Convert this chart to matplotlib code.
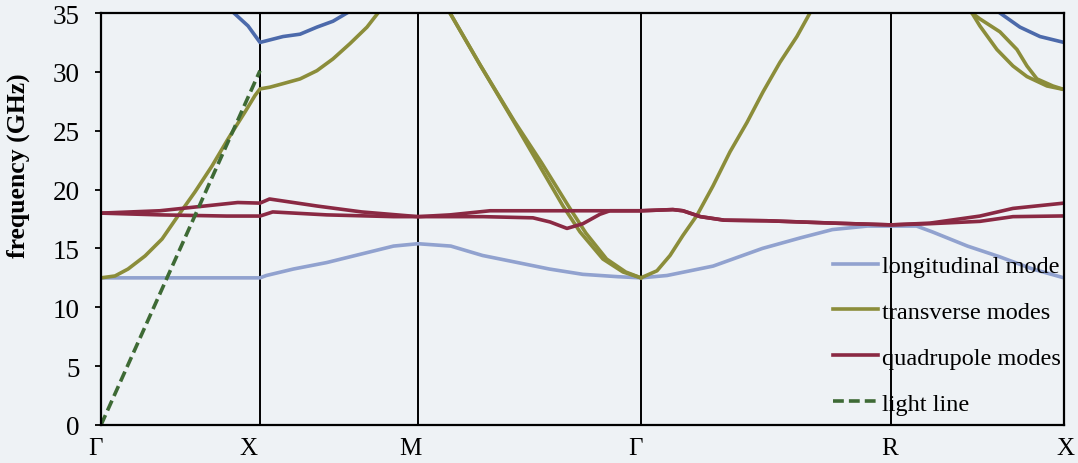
import matplotlib
matplotlib.use('Agg')
import matplotlib.pyplot as plt
from matplotlib.transforms import ScaledTranslation

# high symmetry points along the k-path
k_sym = [0.0, 1.0, 1.994, 3.396, 4.969, 6.057]
sym_labels = ['Γ', 'X', 'M', 'Γ', 'R', 'X']

# longitudinal mode
long_k = [0, 0.5, 1.0, 1.04, 1.21, 1.42, 1.63, 1.84, 1.994, 2.20, 2.40, 2.62, 2.82, 3.03, 3.25,
          3.396, 3.56, 3.85, 4.16, 4.40, 4.60, 4.82, 4.969, 5.13, 5.23, 5.45, 5.65, 5.86, 6.057]
long_f = [12.5, 12.5, 12.5, 12.7, 13.25, 13.8, 14.5, 15.2, 15.4, 15.2, 14.4, 13.8, 13.25, 12.8, 12.6,
          12.5, 12.7, 13.5, 15.0, 15.9, 16.6, 16.9, 16.9, 16.9, 16.4, 15.2, 14.3, 13.25, 12.5]

# upper (unlabelled) band
upper1_k = [0.836, 0.925, 1.0, 1.145, 1.252, 1.358, 1.459, 1.547]
upper1_f = [35.0, 33.9, 32.5, 33.0, 33.2, 33.8, 34.3, 35.0]
upper2_k = [5.654, 5.78, 5.906, 6.057]
upper2_f = [35.0, 33.8, 33.0, 32.5]

# transverse modes
tr1_k = [0, 0.088, 0.17, 0.277, 0.384, 0.484, 0.591, 0.698, 0.799, 0.906, 0.969, 1.0,
         1.063, 1.145, 1.252, 1.358, 1.459, 1.566, 1.673, 1.742]
tr1_f = [12.5, 12.66, 13.25, 14.36, 15.8, 17.76, 19.8, 22.0, 24.3, 26.6, 28.0, 28.55,
         28.7, 29.0, 29.4, 30.1, 31.1, 32.4, 33.8, 35.0]
tr2_k = [2.195, 2.384, 2.591, 2.742, 2.906, 3.013, 3.157, 3.283, 3.396,
         3.497, 3.579, 3.66, 3.748, 3.849, 3.956, 4.063, 4.164, 4.27, 4.377, 4.459]
tr2_f = [35.0, 30.6, 25.9, 22.4, 18.6, 16.4, 14.1, 13.0, 12.5,
         13.1, 14.4, 16.1, 17.8, 20.3, 23.2, 25.7, 28.3, 30.8, 33.0, 35.0]
tr3_k = [2.195, 2.384, 2.60, 2.77, 2.94, 3.05, 3.18, 3.30, 3.396]
tr3_f = [35.0, 30.6, 25.8, 22.3, 18.6, 16.3, 14.1, 13.0, 12.5]
tr4_k = [5.478, 5.528, 5.635, 5.736, 5.824, 5.950, 6.057]
tr4_f = [35.0, 33.9, 31.9, 30.5, 29.6, 28.8, 28.5]
tr5_k = [5.478, 5.528, 5.654, 5.761, 5.824, 5.887, 5.987, 6.057]
tr5_f = [35.0, 34.5, 33.4, 31.9, 30.5, 29.4, 28.8, 28.5]

# quadrupole modes
q1_k = [0, 0.37, 0.58, 0.86, 1.0, 1.06, 1.36, 1.64, 1.994, 2.195, 2.447, 2.824, 3.396,
        3.597, 3.66, 3.77, 3.92, 4.189, 4.604, 4.969, 5.214, 5.528, 5.736, 6.057]
q1_f = [18.0, 18.2, 18.5, 18.9, 18.85, 19.2, 18.6, 18.1, 17.7, 17.85, 18.2, 18.2, 18.2,
        18.3, 18.2, 17.7, 17.4, 17.35, 17.15, 17.0, 17.15, 17.75, 18.4, 18.85]
q2_k = [0, 0.37, 0.79, 1.0, 1.08, 1.42, 1.84, 1.994, 2.403, 2.717, 2.824, 2.931, 3.031, 3.138,
        3.201, 3.396, 3.597, 3.66, 3.77, 3.92, 4.189, 4.604, 4.969, 5.214, 5.528, 5.736, 6.057]
q2_f = [18.0, 17.85, 17.75, 17.75, 18.1, 17.85, 17.7, 17.7, 17.7, 17.6, 17.25, 16.7, 17.1, 17.9,
        18.2, 18.2, 18.3, 18.2, 17.7, 17.4, 17.35, 17.15, 17.0, 17.1, 17.3, 17.7, 17.76]

# light line
light_k = [0.0, 1.0]
light_f = [0.0, 30.1]

C_LONG = '#91a2cf'
C_UP = '#4c6aab'
C_TR = '#8b8d3a'
C_Q = '#8a2943'
C_LIGHT = '#3e6a35'
BG = '#eef2f5'

plt.rcParams['font.family'] = ['Liberation Serif', 'DejaVu Serif']

fig = plt.figure(figsize=(10.78, 4.64), dpi=100, facecolor=BG)
ax = fig.add_axes([101 / 1078, 1 - 426 / 464, 963 / 1078, 412 / 464])
ax.set_facecolor(BG)

lw = 2.6
ax.plot(long_k, long_f, color=C_LONG, lw=lw, label='longitudinal mode')
ax.plot(upper1_k, upper1_f, color=C_UP, lw=lw)
ax.plot(upper2_k, upper2_f, color=C_UP, lw=lw)
ax.plot(tr1_k, tr1_f, color=C_TR, lw=lw, label='transverse modes')
for kk, ff in [(tr2_k, tr2_f), (tr3_k, tr3_f), (tr4_k, tr4_f), (tr5_k, tr5_f)]:
    ax.plot(kk, ff, color=C_TR, lw=lw)
ax.plot(q1_k, q1_f, color=C_Q, lw=lw, label='quadrupole modes')
ax.plot(q2_k, q2_f, color=C_Q, lw=lw)
ax.plot(light_k, light_f, color=C_LIGHT, lw=lw, ls=(0, (3.0, 1.4)), label='light line')

for k in k_sym[1:-1]:
    ax.axvline(k, color='black', lw=1.4, zorder=1)

ax.set_xlim(k_sym[0], k_sym[-1])
ax.set_ylim(0, 35)
ax.set_yticks(range(0, 36, 5))
ax.set_xticks(k_sym)
ax.set_xticklabels(sym_labels)
ax.tick_params(axis='y', direction='out', length=4.5, width=1.3, pad=11, labelsize=19.5)
ax.tick_params(axis='x', length=0, pad=9, labelsize=18)
for s in ax.spines.values():
    s.set_linewidth(1.6)

# the labels sit a little off the lines in the original
label_shift_px = [-6, -12, -8, -5, -1, 1]
for lab, dx in zip(ax.get_xticklabels(), label_shift_px):
    lab.set_transform(lab.get_transform() + ScaledTranslation(dx / 100, 0, fig.dpi_scale_trans))

ax.set_ylabel('frequency (GHz)', fontsize=18.5, fontweight='bold')
ax.yaxis.set_label_coords(-0.074, 0.633)

ax.legend(loc='upper left', bbox_to_anchor=(833 / 1078, 1 - 256 / 464),
          bbox_transform=fig.transFigure, frameon=False, fontsize=17.5,
          handlelength=1.85, handletextpad=0.17, labelspacing=0.98, borderpad=0,
          borderaxespad=0)

fig.savefig('out.png', dpi=100, facecolor=BG)
